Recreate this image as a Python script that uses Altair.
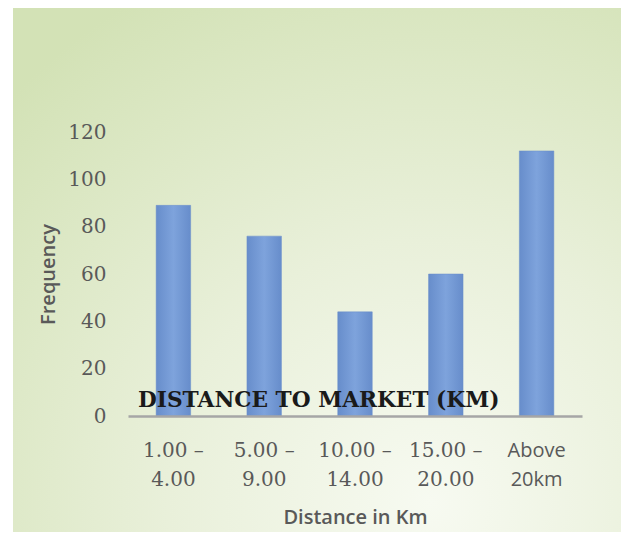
import altair as alt
import pandas as pd

categories = ["1.00 – 4.00", "5.00 – 9.00", "10.00 – 14.00", "15.00 – 20.00", "Above 20km"]
frequency = [89, 76, 44, 60, 112]
y_ticks = [0, 20, 40, 60, 80, 100, 120]
inner_label = "DISTANCE TO MARKET (KM)"

df = pd.DataFrame({"cat": categories, "freq": frequency})

W, H = 454, 284

bg = alt.Chart(pd.DataFrame({"a": [0]})).mark_rect(
    color=alt.Gradient(
        gradient="radial",
        stops=[
            alt.GradientStop(color="#f7faf1", offset=0),
            alt.GradientStop(color="#e9f0da", offset=0.45),
            alt.GradientStop(color="#d3e2b6", offset=1),
        ],
        x1=0.68, y1=0.88, r1=0, x2=0.68, y2=0.88, r2=0.95,
    )
).encode(
    x=alt.value(-115), x2=alt.value(499), y=alt.value(-126), y2=alt.value(400)
)

label_expr = (
    "datum.label == 'Above 20km' ? split(datum.label, ' ') : "
    "[split(datum.label, ' – ')[0] + ' –', split(datum.label, ' – ')[1]]"
)

bars = alt.Chart(df).mark_bar(
    color=alt.Gradient(
        gradient="linear",
        stops=[
            alt.GradientStop(color="#678dcb", offset=0),
            alt.GradientStop(color="#7ea3dc", offset=0.5),
            alt.GradientStop(color="#678dcb", offset=1),
        ],
        x1=0, y1=0, x2=1, y2=0,
    ),
    stroke="#6a8fcb",
    strokeWidth=0.5,
).encode(
    x=alt.X(
        "cat:N",
        sort=categories,
        scale=alt.Scale(paddingInner=0.62, paddingOuter=0.31),
        axis=alt.Axis(
            title="Distance in Km",
            labelAngle=0,
            labelExpr=label_expr,
            labelFont={"condition": {"test": "datum.value == 'Above 20km'", "value": "Open Sans"}, "value": "DejaVu Serif"},
            labelFontSize=20,
            labelColor="#595959",
            labelLineHeight=29.5,
            labelPadding=24,
            ticks=False,
            domainColor="#a6a6a6",
            domainWidth=2.5,
            titleFont="Open Sans",
            titleFontWeight=600,
            titleFontSize=20,
            titleColor="#595959",
            titlePadding=18,
            zindex=1,
        ),
    ),
    y=alt.Y(
        "freq:Q",
        scale=alt.Scale(domain=[0, 120], nice=False),
        axis=alt.Axis(
            title="Frequency",
            values=y_ticks,
            grid=False,
            domain=False,
            ticks=False,
            labelFont="DejaVu Serif",
            labelFontSize=20,
            labelColor="#595959",
            labelPadding=22,
            titleFont="Open Sans",
            titleFontWeight=600,
            titleFontSize=20,
            titleColor="#595959",
            titlePadding=9,
            zindex=1,
        ),
    ),
)

txt = alt.Chart(pd.DataFrame({"t": [inner_label]})).mark_text(
    font="DejaVu Serif",
    fontWeight="bold",
    fontSize=21.7,
    align="left",
    baseline="alphabetic",
    color="#1a1a1a",
).encode(text="t:N", x=alt.value(10), y=alt.value(275))

chart = alt.layer(bg, bars, txt).properties(
    width=W,
    height=H,
    autosize=alt.AutoSizeParams(type="none"),
    padding={"left": 120, "top": 124, "right": 39, "bottom": 116},
    background="white",
).configure_view(stroke=None)

chart.save("out.html", embed_options={"renderer": "svg", "actions": False})
